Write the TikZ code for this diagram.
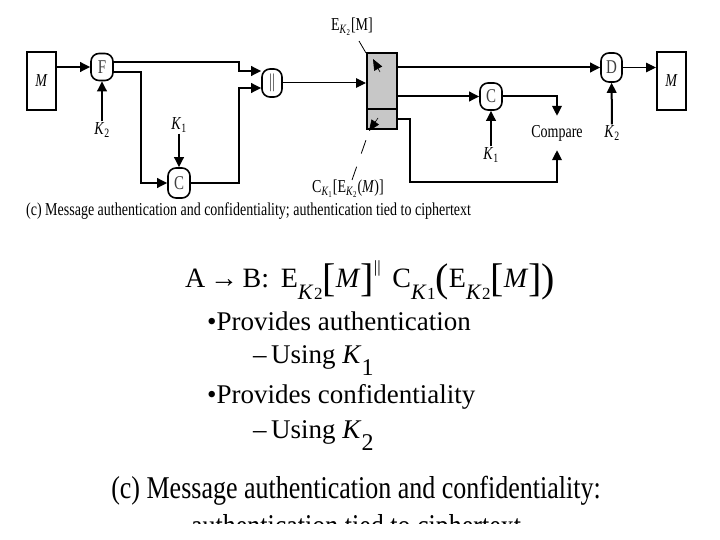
\documentclass[tikz,border=0pt]{standalone}
\usepackage{fontspec}
\setmainfont{Liberation Serif}
\usetikzlibrary{arrows.meta,calc}
\newcommand{\vs}[1]{\scalebox{1}[1.3]{#1}}
\newcommand{\Ks}[1]{\textit{K}\textsubscript{#1}}
\newcommand{\bK}[1]{\raisebox{-12pt}{\fontsize{22}{22}\selectfont\textit{K}\kern0.5pt{\fontsize{17}{17}\selectfont #1}}}
\newcommand{\bigL}[1]{\raisebox{-5pt}{\fontsize{40}{40}\selectfont #1}}
\begin{document}
\begin{tikzpicture}[x=1pt,y=-1pt,
  conn/.style={line width=2pt,-{Triangle[length=10pt,width=9.5pt]}},
  thinconn/.style={line width=1pt,-{Triangle[length=10pt,width=9.5pt]}},
  proc/.style={draw,line width=1.6pt,rounded corners=8pt,minimum width=22pt,minimum height=28pt,inner sep=0pt,font=\fontsize{15}{15}\selectfont,text=black!75},
  msg/.style={draw,line width=2pt,minimum width=29pt,minimum height=58pt,inner sep=0pt,font=\fontsize{14}{14}\selectfont},
  part/.style={draw,line width=2pt,fill=black!22,minimum width=30pt,inner sep=0pt},
  lab/.style={inner sep=1pt,font=\fontsize{14}{14}\selectfont},
  leader/.style={line width=0.8pt,dash pattern=on 14pt off 14pt},
  tipstyle/.style={line width=0.6pt,-{Triangle[length=11pt,width=9pt]}},
  big/.style={inner sep=0pt,anchor=base west,font=\fontsize{27}{27}\selectfont}]
\useasboundingbox (0,0) rectangle (720,540);

% left side
\node[msg] (M1) at (41.5,81) {\vs{\textit{M}}};
\node[proc,minimum height=27pt] (F) at (102,67) {\vs{F}};
\node[lab] (k2a) at (102,130) {\vs{\Ks{2}}};
\node[proc,minimum height=30pt] (C1) at (179,183) {\vs{C}};
\node[lab] (k1a) at (179,125) {\vs{\Ks{1}}};
\node[proc,minimum width=20pt] (P) at (272,83) {\vs{||}};
\node[part,minimum height=56pt] (bxu) at (382,81) {};
\node[part,minimum height=20pt] (bxl) at (382,119) {};

% right side
\node[proc,minimum height=27pt] (C2) at (491,96.5) {\vs{C}};
\node[lab] (k1b) at (491,155) {\vs{\Ks{1}}};
\node[lab,inner ysep=9pt] (cmp) at (557,133) {\vs{Compare}};
\node[proc,minimum width=21pt,minimum height=29pt] (D) at (611.5,67.5) {\vs{D}};
\node[lab] (k2b) at (612,133) {\vs{\Ks{2}}};
\node[msg] (M2) at (671.5,81) {\vs{\textit{M}}};

% labels of the box
\node[lab] (eu) at (352,27) {\vs{E\textsubscript{\textit{K}\textsubscript{2}}[M]}};
\node[lab] (cl) at (348,189) {\vs{C\textsubscript{\textit{K}\textsubscript{1}}[E\textsubscript{\textit{K}\textsubscript{2}}(\textit{M})]}};

% connectors left
\coordinate (mx) at (239,0);
\coordinate (fx) at (141,0);
\coordinate (fo1) at ([yshift=5pt]F.east);
\coordinate (fo2) at ([yshift=-5pt]F.east);
\coordinate (pi1) at ([yshift=12pt]P.west);
\coordinate (pi2) at ([yshift=-5pt]P.west);
\draw[conn] (M1.east |- F) -- (F.west);
\draw[conn] (k2a) -- (F.south);
\draw[conn] (fo1) -| (mx |- pi1) -- (pi1);
\draw[conn] (fo2) -| (fx |- C1) -- (C1.west);
\draw[conn] (k1a) -- (C1);
\draw[conn] (C1.east) -| (mx |- pi2) -- (pi2);
\draw[thinconn] (P.east) -- (P.east -| bxu.west);

% connectors right
\coordinate (fb) at (410,182);
\draw[conn] (bxu.east |- D) -- (D.west);
\draw[conn] (bxu.east |- C2) -- (C2.west);
\draw[conn] (k1b) -- (C2);
\draw[conn] (C2.east) -| (cmp.north);
\draw[conn] (bxl.east) -| (fb) -| (cmp.south);
\draw[conn] (k2b) -- (D);
\draw[thinconn] (D.east) -- (M2.west |- D);

% leaders
\coordinate (ua1) at (359,41);
\coordinate (ua2) at (366,53);
\coordinate (ut0) at (380,72);
\coordinate (ut1) at (373,59);
\draw[line width=0.8pt] (ua1) -- (ua2);
\draw[tipstyle] (ut0) -- (ut1);
\coordinate (la1) at (352,180);
\coordinate (la2) at (366,140);
\coordinate (lt0) at (378,118);
\coordinate (lt1) at (369,131);
\draw[leader] (la1) -- (la2);
\draw[tipstyle] (lt0) -- (lt1);

% caption of figure
\node[inner sep=0pt,anchor=base west,font=\fontsize{14}{14}\selectfont] (cap1) at (26,215)
  {\scalebox{1}[1.3]{(c) Message authentication and confidentiality; authentication tied to ciphertext}};

% bottom text
\node[inner sep=0pt,anchor=base west,font=\fontsize{28}{28}\selectfont] (l1) at (185,287)
  {A\,→\,B:\, E\bK{2}\bigL{[}\textit{M}\bigL{]}\raisebox{15pt}{\fontsize{17}{17}\selectfont||}\,
   C\bK{1}\bigL{(}E\bK{2}\bigL{[}\textit{M}\bigL{]}\bigL{)}};
\node[big] (l2) at (207,330) {•Provides authentication};
\node[big] (l3) at (253,363) {–\,Using \textit{K}\raisebox{-12pt}{\fontsize{24}{24}\selectfont 1}};
\node[big] (l4) at (207,403) {•Provides confidentiality};
\node[big] (l5) at (253,438) {–\,Using \textit{K}\raisebox{-12pt}{\fontsize{24}{24}\selectfont 2}};
\node[inner sep=0pt,anchor=base,font=\fontsize{26}{26}\selectfont] (c1) at (356,498)
  {\scalebox{1}[1.22]{(c) Message authentication and confidentiality:}};
\begin{scope}
\clip (0,0) rectangle (720,523);
\node[inner sep=0pt,anchor=base,font=\fontsize{26}{26}\selectfont] (c2) at (356,536)
  {\scalebox{1}[1.22]{authentication tied to ciphertext}};
\end{scope}
\end{tikzpicture}
\end{document}
